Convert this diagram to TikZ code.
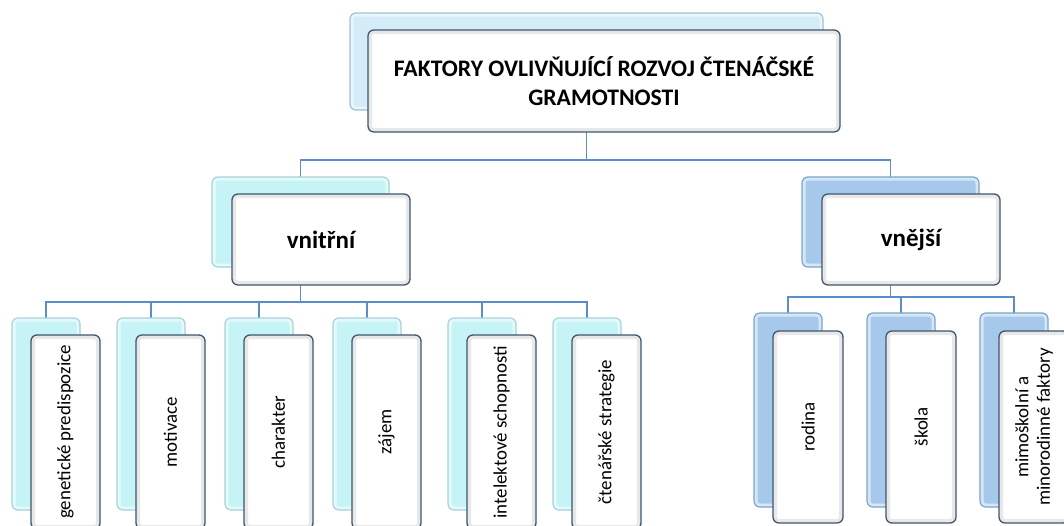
\documentclass[tikz,border=0pt]{standalone}
\usepackage{fontspec}
\setmainfont{Carlito}
\usetikzlibrary{backgrounds}
\definecolor{conn}{HTML}{5B8EC8}
\definecolor{frontdraw}{HTML}{3F566E}
\definecolor{cyanfill}{HTML}{C6F3F6}
\definecolor{cyandraw}{HTML}{A2D4DA}
\definecolor{bluefill}{HTML}{A6C9EB}
\definecolor{bluedraw}{HTML}{7AA3CD}
\definecolor{topfill}{HTML}{D3ECF8}
\definecolor{topdraw}{HTML}{A0C1D5}
\tikzset{
  box/.style={rounded corners=6pt, inner sep=0pt, outer sep=0pt},
  backbox/.style={box, fill=#1fill, draw=#1draw, line width=1.2pt,
    path picture={\draw[white, opacity=0.55, line width=7pt]
      (path picture bounding box.south west) rectangle (path picture bounding box.north east);}},
  frontbox/.style={box, fill=white, draw=frontdraw, line width=1.3pt,
    path picture={\draw[black!9, line width=8pt]
      (path picture bounding box.south west) rectangle (path picture bounding box.north east);}},
  connector/.style={draw=conn, line width=1.8pt},
  toptext/.style={font=\fontsize{23.7}{28.5}\selectfont\bfseries, align=center},
  midtext/.style={font=\fontsize{25}{30}\selectfont\bfseries},
  leaftext/.style={font=\fontsize{18.9}{21.5}\selectfont, align=center},
}
\begin{document}
\begin{tikzpicture}[x=1pt,y=-1pt]
\useasboundingbox (0,0) rectangle (1064,525);
\clip (0,0) rectangle (1064,525);
% top
\node[backbox=top, minimum width=473, minimum height=97, anchor=north west] (topB) at (350,13) {};
\node[frontbox, minimum width=472, minimum height=102, anchor=north west, toptext] (topF) at (368,30)
  {FAKTORY OVLIVŇUJÍCÍ ROZVOJ ČTENÁČSKÉ\\GRAMOTNOSTI};
% second level
\node[backbox=cyan, minimum width=177, minimum height=90, anchor=north west] (inB) at (212,177) {};
\node[frontbox, minimum width=178, minimum height=91, anchor=north west, midtext] (inF) at (232,194) {vnitřní};
\node[backbox=blue, minimum width=177, minimum height=90, anchor=north west] (exB) at (802,177) {};
\node[frontbox, minimum width=178, minimum height=91, anchor=north west, midtext] (exF) at (822,194) {vnější};
% left leaves
\foreach \x/\n/\t in {12/a/{genetické predispozice}, 117/b/motivace, 225/c/charakter, 333/d/zájem, 448/e/{intelektové schopnosti}, 553/f/{čtenářské strategie}}{
  \node[backbox=cyan, minimum width=68, minimum height=192, anchor=north west] (L\n B) at (\x,318) {};
  \node[frontbox, rotate=90, minimum width=194, minimum height=69, leaftext] (L\n F) at (\x+53.5,432) {\t};
}
% right leaves
\foreach \x/\n/\t in {754/a/rodina, 867/b/škola, 980/c/{mimoškolní a\\minorodinné faktory}}{
  \node[backbox=blue, minimum width=68, minimum height=194, anchor=north west] (R\n B) at (\x,313) {};
  \node[frontbox, rotate=90, minimum width=192, minimum height=70, leaftext] (R\n F) at (\x+54,427) {\t};
}
\begin{pgfonlayer}{background}
  \draw[connector] (topB.south) -- ++(0,50) coordinate (h1);
  \draw[connector] (inB.north) |- (h1) -| (exB.north);
  \draw[connector] (inB.south) -- ++(0,35) coordinate (h2);
  \foreach \n in {a,b,c,d,e,f}{ \draw[connector] (L\n B.north) |- (h2); }
  \draw[connector] (exB.south) -- ++(0,30) coordinate (h3);
  \foreach \n in {a,b,c}{ \draw[connector] (R\n B.north) |- (h3); }
\end{pgfonlayer}
\end{tikzpicture}
\end{document}
